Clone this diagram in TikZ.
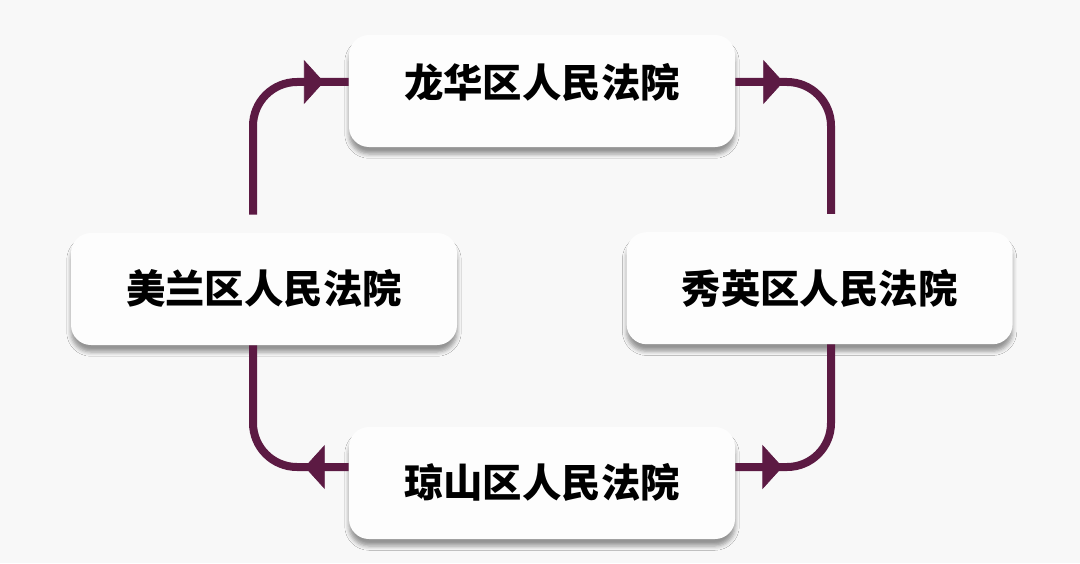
\documentclass[tikz,border=0pt]{standalone}
\usepackage{fontspec}
\newfontfamily\cjk{Noto Sans CJK SC}
\usetikzlibrary{positioning, arrows.meta, calc, decorations.markings, shadows.blur}
\definecolor{plum}{RGB}{92,26,67}
\definecolor{bggray}{RGB}{248,248,248}
\definecolor{boxwhite}{RGB}{253,253,253}

\begin{document}
\begin{tikzpicture}[
    court/.style={rectangle, rounded corners=0.5cm, minimum width=9.65cm, minimum height=2.8cm,
        fill=boxwhite, text height=0.8cm, text depth=0.06cm,
        font=\cjk\bfseries\fontsize{28}{34}\selectfont,
        blur shadow={shadow xshift=0pt, shadow yshift=-5pt, shadow blur radius=3pt, shadow opacity=40}},
    flow/.style={draw=plum, line width=0.2cm, rounded corners=1.1cm},
    tipat/.style={postaction={decorate}, decoration={markings,
        mark=at position #1 with {\arrow[plum]{Triangle[length=0.5cm, width=1.1cm, line width=0.5pt]}}}}
]

    % Background
    \fill[bggray] (0,0) rectangle (27,14.075);
    \useasboundingbox (0,0) rectangle (27,14.075);

    % Courts
    \node[court, text depth=0.46cm] (lh) at (13.55,11.8) {龙华区人民法院};
    \node[court] (ml) at (6.6,6.85) {美兰区人民法院};
    \node[court] (xy) at (20.49,6.87) {秀英区人民法院};
    \node[court] (qs) at (13.55,2.0) {琼山区人民法院};

    % Arrows between the courts
    \draw[flow, tipat=-0.62cm] ([xshift=-0.275cm, yshift=0.45cm]ml.north) |- ([yshift=0.225cm]lh.west);
    \draw[flow, tipat=1.2cm] ([yshift=0.225cm]lh.east) -| ([xshift=0.285cm, yshift=0.45cm]xy.north);
    \draw[flow, tipat=1.18cm] ([yshift=0.4cm]qs.east) -| ([xshift=0.285cm]xy.south);
    \draw[flow, tipat=1.1cm] ([yshift=0.4cm]qs.west) -| ([xshift=-0.275cm]ml.south);

\end{tikzpicture}
\end{document}
